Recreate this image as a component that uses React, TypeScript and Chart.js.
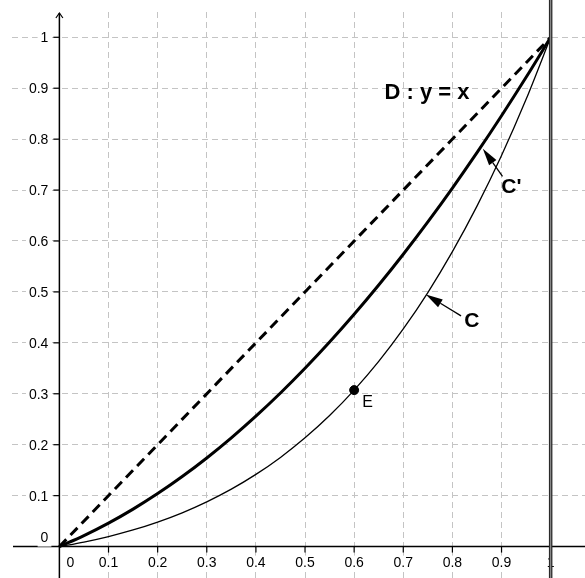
import { useEffect, useRef } from "react";
import { Chart, registerables } from "chart.js";

Chart.register(...registerables);

// ---- data ----
const xValues = [0, 0.05, 0.1, 0.15, 0.2, 0.25, 0.3, 0.35, 0.4, 0.45, 0.5, 0.55, 0.6, 0.65, 0.7, 0.75, 0.8, 0.85, 0.9, 0.95, 1];
const curveCPrime = [0, 0.0215, 0.046, 0.0735, 0.104, 0.1375, 0.174, 0.2135, 0.256, 0.3015, 0.35, 0.4015, 0.456, 0.5135, 0.574, 0.6375, 0.704, 0.7735, 0.846, 0.9215, 1];
const curveC = [0, 0.0089, 0.0197, 0.0326, 0.0481, 0.0663, 0.0878, 0.1127, 0.1417, 0.1751, 0.2135, 0.2573, 0.3072, 0.3636, 0.4273, 0.4988, 0.579, 0.6684, 0.7678, 0.8781, 1];
const lineDX = [0, 1];
const lineDY = [0, 1];
const pointE = { x: 0.6, y: 0.3072 };

const tickValues = [0, 0.1, 0.2, 0.3, 0.4, 0.5, 0.6, 0.7, 0.8, 0.9, 1];
const xTickLabels = ["0", "0.1", "0.2", "0.3", "0.4", "0.5", "0.6", "0.7", "0.8", "0.9", "1"];
const yTickLabels = ["0", "0.1", "0.2", "0.3", "0.4", "0.5", "0.6", "0.7", "0.8", "0.9", "1"];

const labelD = "D : y = x";
const labelCPrime = "C'";
const labelC = "C";
const labelE = "E";

const FONT = '"Liberation Sans", Arial, sans-serif';

function drawArrow(ctx: CanvasRenderingContext2D, tx: number, ty: number, hx: number, hy: number, headLen: number, headW: number) {
  const ang = Math.atan2(hy - ty, hx - tx);
  const bx = hx - Math.cos(ang) * headLen;
  const by = hy - Math.sin(ang) * headLen;
  ctx.beginPath();
  ctx.moveTo(tx, ty);
  ctx.lineTo(bx, by);
  ctx.stroke();
  ctx.beginPath();
  ctx.moveTo(hx, hy);
  ctx.lineTo(bx + Math.sin(ang) * headW, by - Math.cos(ang) * headW);
  ctx.lineTo(bx - Math.sin(ang) * headW, by + Math.cos(ang) * headW);
  ctx.closePath();
  ctx.fill();
}

function labelWithBg(ctx: CanvasRenderingContext2D, text: string, x: number, y: number, align: CanvasTextAlign) {
  const w = ctx.measureText(text).width;
  let left = x;
  if (align === "center") left = x - w / 2;
  if (align === "right") left = x - w;
  ctx.fillStyle = "#fff";
  ctx.fillRect(left - 3, y - 8, w + 6, 16);
  ctx.fillStyle = "#000";
  ctx.textAlign = align;
  ctx.fillText(text, x, y);
}

const geoPlugin = {
  id: "geoPlugin",
  beforeDraw(chart: any) {
    const ctx = chart.ctx;
    ctx.save();
    ctx.fillStyle = "#fff";
    ctx.fillRect(0, 0, chart.width, chart.height);
    ctx.restore();
  },
  beforeDatasetsDraw(chart: any) {
    const ctx: CanvasRenderingContext2D = chart.ctx;
    const xs = chart.scales.x;
    const ys = chart.scales.y;
    const W = chart.width;
    const H = chart.height;
    const start = 12;
    ctx.save();
    // grid
    ctx.strokeStyle = "#c4c4c4";
    ctx.lineWidth = 1;
    ctx.setLineDash([6, 4]);
    tickValues.slice(1).forEach((v) => {
      const px = Math.floor(xs.getPixelForValue(v)) + 0.5;
      ctx.beginPath();
      ctx.moveTo(px, start);
      ctx.lineTo(px, H);
      ctx.stroke();
      const py = Math.floor(ys.getPixelForValue(v)) + 0.5;
      ctx.beginPath();
      ctx.moveTo(start, py);
      ctx.lineTo(W, py);
      ctx.stroke();
    });
    ctx.setLineDash([]);
    // axes
    const x0 = xs.getPixelForValue(0);
    const y0 = ys.getPixelForValue(0);
    ctx.strokeStyle = "#000";
    ctx.lineWidth = 1.5;
    ctx.beginPath();
    ctx.moveTo(start + 1, y0);
    ctx.lineTo(W, y0);
    ctx.stroke();
    ctx.beginPath();
    ctx.moveTo(x0, start + 1);
    ctx.lineTo(x0, H);
    ctx.stroke();
    ctx.lineWidth = 1.2;
    ctx.beginPath();
    ctx.moveTo(x0 - 3.5, start + 6);
    ctx.lineTo(x0, start + 1);
    ctx.lineTo(x0 + 3.5, start + 6);
    ctx.stroke();
    // tick marks
    ctx.lineWidth = 1.2;
    tickValues.slice(1).forEach((v) => {
      const px = xs.getPixelForValue(v);
      ctx.beginPath();
      ctx.moveTo(px, y0);
      ctx.lineTo(px, y0 + 6);
      ctx.stroke();
      const py = ys.getPixelForValue(v);
      ctx.beginPath();
      ctx.moveTo(x0 - 6, py);
      ctx.lineTo(x0, py);
      ctx.stroke();
    });
    // tick labels
    ctx.font = `14px ${FONT}`;
    ctx.textBaseline = "middle";
    tickValues.forEach((v, i) => {
      const px = xs.getPixelForValue(v);
      if (i === 0) labelWithBg(ctx, xTickLabels[i], x0 + 11, y0 + 17, "center");
      else labelWithBg(ctx, xTickLabels[i], px, y0 + 17, "center");
      const py = ys.getPixelForValue(v);
      if (i === 0) labelWithBg(ctx, yTickLabels[i], x0 - 11, y0 - 8, "right");
      else labelWithBg(ctx, yTickLabels[i], x0 - 11, py + 1, "right");
    });
    ctx.restore();
  },
  afterDatasetsDraw(chart: any) {
    const ctx: CanvasRenderingContext2D = chart.ctx;
    const xs = chart.scales.x;
    const ys = chart.scales.y;
    const H = chart.height;
    ctx.save();
    // vertical line x = 1
    const x1 = xs.getPixelForValue(1);
    ctx.strokeStyle = "#2a2a2a";
    ctx.lineWidth = 3.5;
    ctx.beginPath();
    ctx.moveTo(x1, 0);
    ctx.lineTo(x1, H);
    ctx.stroke();
    ctx.strokeStyle = "#9a9a9a";
    ctx.lineWidth = 1;
    ctx.beginPath();
    ctx.moveTo(x1, 0);
    ctx.lineTo(x1, H);
    ctx.stroke();

    // arrows
    ctx.strokeStyle = "#000";
    ctx.fillStyle = "#000";
    ctx.lineWidth = 1.3;
    drawArrow(ctx, xs.getPixelForValue(0.902), ys.getPixelForValue(0.727), xs.getPixelForValue(0.862), ys.getPixelForValue(0.781), 17, 4.5);
    drawArrow(ctx, xs.getPixelForValue(0.8176), ys.getPixelForValue(0.453), xs.getPixelForValue(0.746), ys.getPixelForValue(0.495), 17, 4.5);

    // labels
    ctx.textBaseline = "middle";
    ctx.textAlign = "left";
    ctx.font = `bold 22px ${FONT}`;
    ctx.fillText(labelD, xs.getPixelForValue(0.6617), ys.getPixelForValue(0.8907));
    ctx.font = `bold 21px ${FONT}`;
    ctx.fillText(labelCPrime, xs.getPixelForValue(0.8996), ys.getPixelForValue(0.706));
    ctx.fillText(labelC, xs.getPixelForValue(0.8243), ys.getPixelForValue(0.443));
    ctx.font = `16px ${FONT}`;
    ctx.fillText(labelE, xs.getPixelForValue(pointE.x) + 8, ys.getPixelForValue(pointE.y) + 12);
    ctx.restore();
  },
};

export default function App() {
  const canvasRef = useRef<HTMLCanvasElement | null>(null);

  useEffect(() => {
    if (!canvasRef.current) return;
    const toPoints = (xa: number[], ya: number[]) => xa.map((x, i) => ({ x, y: ya[i] }));
    const chart = new Chart(canvasRef.current, {
      type: "scatter",
      data: {
        datasets: [
          {
            label: "E",
            data: [pointE],
            showLine: false,
            pointRadius: 4.5,
            pointBackgroundColor: "#000",
            pointBorderColor: "#000",
            order: 0,
          },
          {
            label: "C'",
            data: toPoints(xValues, curveCPrime),
            showLine: true,
            borderColor: "#000",
            borderWidth: 3,
            pointRadius: 0,
            cubicInterpolationMode: "monotone",
            order: 1,
          },
          {
            label: "C",
            data: toPoints(xValues, curveC),
            showLine: true,
            borderColor: "#000",
            borderWidth: 1.3,
            pointRadius: 0,
            cubicInterpolationMode: "monotone",
            order: 2,
          },
          {
            label: "D",
            data: toPoints(lineDX, lineDY),
            showLine: true,
            borderColor: "#000",
            borderWidth: 3,
            borderDash: [10, 6],
            pointRadius: 0,
            order: 3,
          },
        ],
      },
      options: {
        animation: false,
        responsive: false,
        devicePixelRatio: 1,
        layout: { padding: 0, autoPadding: false },
        plugins: { legend: { display: false }, tooltip: { enabled: false } },
        scales: {
          x: { type: "linear", min: -0.1209, max: 1.0699, display: false },
          y: { type: "linear", min: -0.0617, max: 1.0732, display: false },
        },
      },
      plugins: [geoPlugin],
    } as any);
    return () => chart.destroy();
  }, []);

  return (
    <div style={{ position: "fixed", left: 0, top: 0, width: 585, height: 578, background: "#fff" }}>
      <canvas ref={canvasRef} width={585} height={578} />
    </div>
  );
}
